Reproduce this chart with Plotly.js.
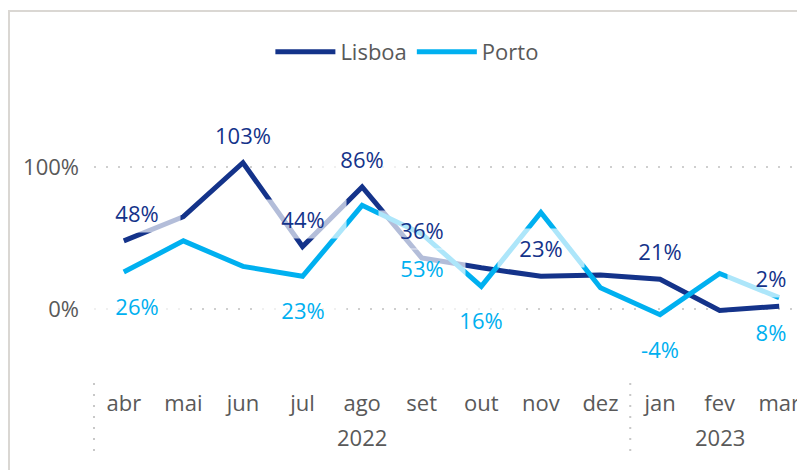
<!DOCTYPE html>
<html>
<head>
<meta charset="utf-8">
<script src="https://cdn.plot.ly/plotly-3.0.1.min.js"></script>
<style>
html,body{margin:0;padding:0;overflow:hidden;background:#fff;width:797px;height:470px;}
#chart{position:absolute;left:0;top:0;width:830px;height:470px;}
#frame{position:absolute;left:8px;top:10px;width:900px;height:600px;border-top:2px solid #dad7d3;border-left:2px solid #dad7d3;pointer-events:none;}
</style>
</head>
<body>
<div id="chart"></div>
<div id="frame"></div>
<script>
// ---- data ----
const years  = ['2022','2022','2022','2022','2022','2022','2022','2022','2022','2023','2023','2023'];
const months = ['abr','mai','jun','jul','ago','set','out','nov','dez','jan','fev','mar'];
const lisboa = [48, 65, 103, 44, 86, 36, 29, 23, 24, 21, -1, 2];
const porto  = [26, 48, 30, 23, 73, 53, 16, 68, 15, -4, 25, 8];
// indices of points that carry a data label
const lisboaLabelAt = [0, 2, 3, 4, 5, 7, 9, 11];
const portoLabelAt  = [0, 3, 5, 6, 9, 11];
const yTicks = [0, 100];

// ---- style ----
const NAVY = '#14338a';
const CYAN = '#00b0f0';
const GREY = '#595959';
const FONT = 'Open Sans, Noto Sans, sans-serif';
const labelNudge = {0: 13, 11: -8};

function makeLabels(values, idxs, color, above) {
  return idxs.map(i => ({
    x: months[i], y: values[i], xref: 'x', yref: 'y',
    text: values[i] + '%', showarrow: false,
    font: {family: FONT, size: 22, color: color},
    bgcolor: 'rgba(255,255,255,0.68)',
    width: 86, height: 38, borderpad: 0,
    xanchor: 'center', yanchor: 'middle',
    xshift: labelNudge[i] || 0,
    yshift: above ? 28 : -34
  }));
}

// year groups: centre label and dividers from the years array
const groups = [];
years.forEach((yr, i) => {
  const g = groups[groups.length - 1];
  if (g && g.name === yr) g.end = i; else groups.push({name: yr, start: i, end: i});
});
const yearLabels = groups.map(g => ({
  x: (g.start + g.end) / 2, y: -0.2007, xref: 'x', yref: 'paper',
  text: g.name, showarrow: false, xanchor: 'center', yanchor: 'middle',
  font: {family: FONT, size: 22, color: GREY}
}));
const dividerStyle = {color: '#c8c8c8', width: 2, dash: '2px,9px'};
const dividers = [{type: 'line', xref: 'paper', yref: 'paper', x0: 0, x1: 0,
                   y0: -0.0106, y1: -0.268, line: dividerStyle}]
  .concat(groups.slice(1).map(g => ({type: 'line', xref: 'x', yref: 'paper',
    x0: g.start - 0.5, x1: g.start - 0.5, y0: -0.0106, y1: -0.268, line: dividerStyle})));

const traces = [
  {x: months, y: lisboa, type: 'scatter', mode: 'lines', name: 'Lisboa',
   line: {color: NAVY, width: 5}},
  {x: months, y: porto, type: 'scatter', mode: 'lines', name: 'Porto',
   line: {color: CYAN, width: 5}}
];

const layout = {
  width: 830, height: 470,
  margin: {l: 94, r: 20.8, t: 96, b: 90},
  paper_bgcolor: '#fff', plot_bgcolor: '#fff',
  font: {family: FONT, size: 22, color: GREY},
  showlegend: true,
  legend: {orientation: 'h', x: 0.4376, xanchor: 'center', y: 1.155, yanchor: 'middle',
           font: {family: FONT, size: 22, color: GREY}, itemwidth: 60, bgcolor: 'rgba(0,0,0,0)'},
  xaxis: {type: 'category', range: [-0.5, 11.5], showgrid: false, showline: false, zeroline: false,
          ticks: '', tickfont: {family: FONT, size: 22, color: GREY},
          ticklabelstandoff: 8},
  yaxis: {range: [-50, 150], tickvals: yTicks, ticktext: yTicks.map(v => v + '%'), showgrid: true,
          gridcolor: '#cfcfcf', gridwidth: 2, griddash: '2px,10px', zeroline: false,
          showline: false, ticks: '', ticklabelstandoff: 14,
          tickfont: {family: FONT, size: 22, color: GREY}},
  shapes: dividers,
  annotations: makeLabels(lisboa, lisboaLabelAt, NAVY, true)
      .concat(makeLabels(porto, portoLabelAt, CYAN, false))
      .concat(yearLabels)
};

Plotly.newPlot('chart', traces, layout, {displayModeBar: false, staticPlot: true});
</script>
</body>
</html>
